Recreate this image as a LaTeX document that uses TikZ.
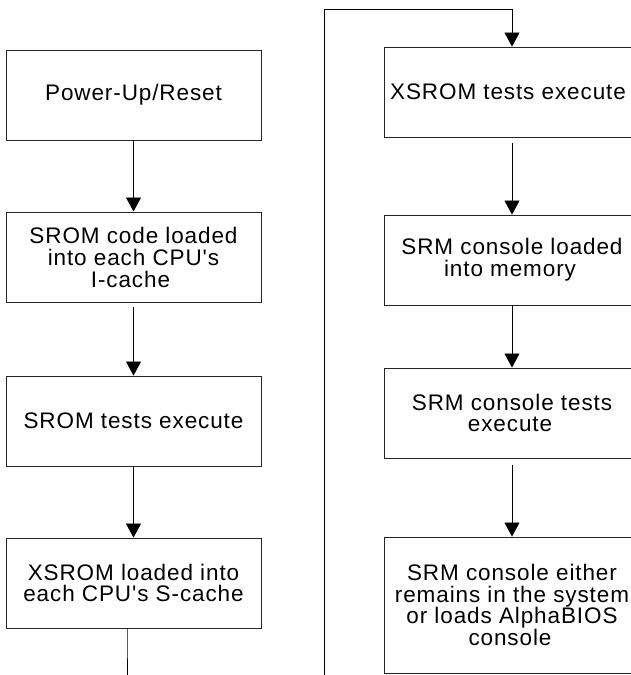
\documentclass[tikz,border=0pt]{standalone}
\usepackage{fontspec}
\setmainfont{Liberation Sans}[LetterSpace=4,Ligatures=TeXOff]
\usetikzlibrary{arrows.meta}
\begin{document}
\begin{tikzpicture}[x=1pt,y=-1pt,
  box/.style={draw=black!85,line width=0.9pt,minimum width=255pt,inner sep=0pt,align=center,
    font=\fontsize{22.5}{21.7}\selectfont},
  arr/.style={line width=0.8pt,-{Triangle[width=15pt,length=14pt]}},
  ln/.style={line width=0.8pt}]
\clip (0,0) rectangle (631,675);
\useasboundingbox (0,0) rectangle (631,675);
% left column
\node[box,minimum height=90pt] (b1) at (133.5,95) {Power-Up/Reset};
\node[box,minimum height=90.7pt] (b2) at (133.5,257.3) {SROM code loaded\\into each CPU's\\I-cache\hspace*{6pt}};
\node[box,minimum height=90pt] (b3) at (133.5,421) {SROM tests execute};
\node[box,minimum height=90pt] (b4) at (133.5,583) {XSROM loaded into\\each CPU's S-cache};
% right column
\node[box,minimum width=256pt,minimum height=90pt] (b5) at (512,92) {XSROM tests execute\hspace*{8pt}};
\node[box,minimum width=256pt,minimum height=90pt] (b6) at (512,260) {SRM console loaded\\into memory\hspace*{4pt}};
\node[box,minimum width=256pt,minimum height=90pt] (b7) at (512,413) {SRM console tests\\execute\hspace*{4pt}};
\node[box,minimum width=256pt,minimum height=136pt] (b8) at (512,605) {SRM console either\\remains in the system\\or loads AlphaBIOS\\console\hspace*{4pt}};
% connectors
\coordinate (lb) at (127,690);
\coordinate (rb) at (324,690);
\coordinate (rt) at (324,9);
\draw[arr] (b1.south) -- (b2.north);
\draw[arr] ([yshift=-4pt]b2.south) -- (b3.north);
\draw[arr] (b3.south) -- (b4.north);
\draw[ln] ([xshift=-6.5pt,yshift=-2pt]b4.south) -- (b4.south -| lb) -- (lb);
\draw[arr] (rb) -- (rt) -| (b5.north);
\draw[arr] ([yshift=-6pt]b5.south) -- (b6.north);
\draw[arr] (b6.south) -- (b7.north);
\draw[arr] ([yshift=-7pt]b7.south) -- (b8.north);
\end{tikzpicture}
\end{document}
